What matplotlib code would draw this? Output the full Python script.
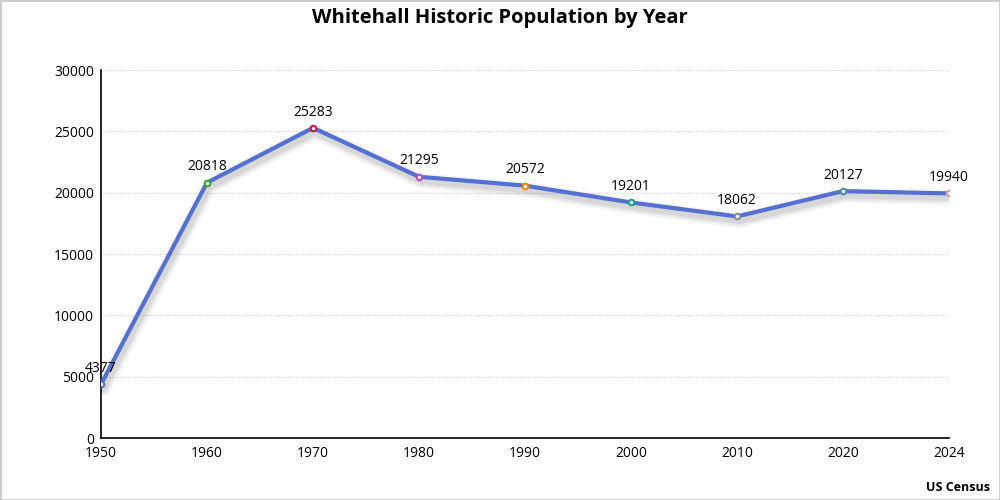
import numpy as np
import matplotlib
matplotlib.use("Agg")
import matplotlib.pyplot as plt
import matplotlib.patheffects as pe

plt.rcParams['font.family'] = ['Open Sans', 'DejaVu Sans']

years = ['1950', '1960', '1970', '1980', '1990', '2000', '2010', '2020', '2024']
population = [4377, 20818, 25283, 21295, 20572, 19201, 18062, 20127, 19940]
marker_colors = ['#5470c6', '#3ba52a', '#d1183b', '#b84fc7', '#e8870e',
                 '#17a08e', '#8a8a8a', '#4a8fa8', '#e597ac']
y_ticks = [0, 5000, 10000, 15000, 20000, 25000, 30000]

fig = plt.figure(figsize=(10, 5), dpi=100)
ax = fig.add_axes([0.101, 0.124, 0.848, 0.736])

x = np.arange(len(years))

# fake a blurred drop shadow with a few wide, faint strokes
shadow = [pe.SimpleLineShadow(offset=(1.5, -3), shadow_color='black', alpha=a,
                              rho=1.0, linewidth=w)
          for w, a in [(11, 0.04), (8, 0.05), (5, 0.07)]]
ax.plot(x, population, color='#5470d0', lw=3, zorder=3, solid_capstyle='round',
        path_effects=shadow + [pe.Normal()])

for xi, yi, c in zip(x, population, marker_colors):
    ax.plot(xi, yi, marker='o', ms=4, mfc='white', mec=c, mew=1.5, zorder=4)
    ax.annotate(str(yi), (xi, yi), xytext=(0, 6), textcoords='offset points',
                ha='center', va='bottom', fontsize=10, color='black', zorder=5)

ax.set_xlim(0, len(years) - 1)
ax.set_ylim(0, 30000)
ax.set_xticks(x)
ax.set_xticklabels(years)
ax.set_yticks(y_ticks)
ax.tick_params(axis='both', length=0, labelsize=10, colors='black')
ax.tick_params(axis='x', pad=6)
ax.tick_params(axis='y', pad=5)
ax.grid(axis='y', linestyle=(0, (1, 1.5)), color='#cccccc', lw=0.8)
ax.set_axisbelow(True)

for s in ['top', 'right']:
    ax.spines[s].set_visible(False)
for s in ['left', 'bottom']:
    ax.spines[s].set_color('black')
    ax.spines[s].set_linewidth(1.2)

fig.text(0.5, 0.965, 'Whitehall Historic Population by Year', ha='center', va='center',
         fontsize=14.5, fontweight='bold')
fig.text(0.99, 0.025, 'US Census', ha='right', va='center', fontsize=9, fontweight='bold')

# grey frame around the figure
fig.patches.append(plt.Rectangle((0, 0), 1, 1, transform=fig.transFigure, fill=False,
                                 edgecolor='#cccccc', lw=2))

fig.savefig('out.png', dpi=100)
